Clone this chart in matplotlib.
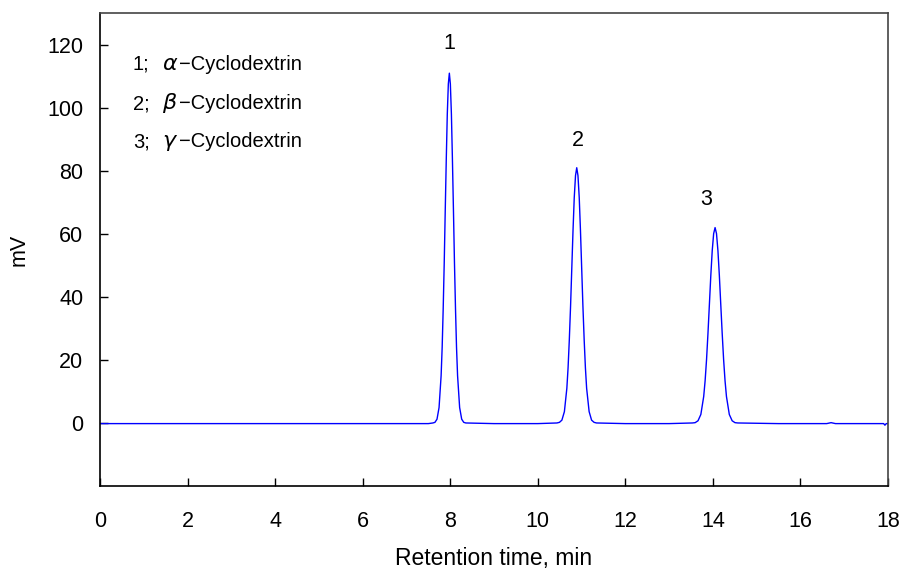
import matplotlib
matplotlib.use("Agg")
import matplotlib.pyplot as plt
import numpy as np

# Chromatogram trace (retention time in min, signal in mV)
time_min = [0.0, 2.0, 4.0, 6.0, 7.0, 7.5,
            7.604, 7.651, 7.698, 7.745, 7.792, 7.816, 7.839, 7.863, 7.886, 7.910, 7.933, 7.957,
            7.98,
            8.003, 8.027, 8.050, 8.074, 8.097, 8.121, 8.144, 8.168, 8.215, 8.262, 8.309, 8.356,
            9.0, 10.0,
            10.438, 10.495, 10.551, 10.608, 10.664, 10.692, 10.720, 10.749, 10.777, 10.805, 10.833, 10.862,
            10.89,
            10.918, 10.947, 10.975, 11.003, 11.031, 11.060, 11.088, 11.116, 11.173, 11.229, 11.286, 11.342,
            12.0, 13.0,
            13.53, 13.595, 13.66, 13.725, 13.79, 13.8225, 13.855, 13.8875, 13.92, 13.9525, 13.985, 14.0175,
            14.05,
            14.0825, 14.115, 14.1475, 14.18, 14.2125, 14.245, 14.2775, 14.31, 14.375, 14.44, 14.505, 14.57,
            15.5, 16.6, 16.7, 16.8, 17.9, 17.93, 17.96, 18.0]
signal_mv = [-0.2, -0.2, -0.2, -0.2, -0.2, -0.2,
             0.0, 0.2, 1.2, 4.9, 15.0, 24.0, 36.0, 50.8, 67.3, 83.8, 98.0, 107.6,
             111.0,
             107.6, 98.0, 83.8, 67.3, 50.8, 36.0, 24.0, 15.0, 4.9, 1.2, 0.2, 0.0,
             -0.2, -0.2,
             0.0, 0.2, 0.9, 3.6, 11.0, 17.5, 26.3, 37.1, 49.1, 61.1, 71.5, 78.5,
             81.0,
             78.5, 71.5, 61.1, 49.1, 37.1, 26.3, 17.5, 11.0, 3.6, 0.9, 0.2, 0.0,
             -0.2, -0.2,
             0.0, 0.1, 0.7, 2.7, 8.4, 13.4, 20.1, 28.4, 37.6, 46.8, 54.7, 60.1,
             62.0,
             60.1, 54.7, 46.8, 37.6, 28.4, 20.1, 13.4, 8.4, 2.7, 0.7, 0.1, 0.0,
             -0.2, -0.2, 0.1, -0.2, -0.2, -0.7, -0.2, -0.2]

peak_labels = ["1", "2", "3"]
peak_label_x = [7.98, 10.91, 13.85]
peak_label_y = [120.5, 89.5, 70.8]

legend_nums = ["1;", "2;", "3;"]
legend_greek = ["$\\alpha$", "$\\beta$", "$\\gamma$"]
legend_name = "\u2212Cyclodextrin"

x_ticks = [0, 2, 4, 6, 8, 10, 12, 14, 16, 18]
y_ticks = [0, 20, 40, 60, 80, 100, 120]

plt.rcParams['font.family'] = ['Liberation Sans', 'DejaVu Sans']
plt.rcParams['mathtext.fontset'] = 'dejavusans'

fig = plt.figure(figsize=(9.03, 5.72), dpi=100)
ax = fig.add_axes([100/903, 1 - 486/572, 788/903, (486 - 13.3)/572])

ax.plot(time_min, signal_mv, color='#0000FF', lw=1.0)

ax.set_xlim(0, 18)
ax.set_ylim(-20, 130)
ax.set_xticks(x_ticks)
ax.set_yticks(y_ticks)
ax.tick_params(axis='both', direction='in', length=6, width=1, labelsize=15.5, colors='black')
ax.tick_params(axis='y', pad=12)
ax.tick_params(axis='x', pad=18)

for side in ['left', 'bottom']:
    ax.spines[side].set_linewidth(1.2)
    ax.spines[side].set_color('black')
for side in ['top', 'right']:
    ax.spines[side].set_linewidth(1.2)
    ax.spines[side].set_color('#444444')

ax.set_xlabel('Retention time, min', fontsize=16.5, labelpad=11)
ax.set_ylabel('mV', fontsize=15.5, labelpad=13)

for lab, lx, ly in zip(peak_labels, peak_label_x, peak_label_y):
    ax.text(lx, ly, lab, ha='center', va='center', fontsize=15.5)

legend_y_px = [70, 109, 147]
for num, greek, ypx in zip(legend_nums, legend_greek, legend_y_px):
    yf = 1 - ypx/572
    fig.text(133/903, yf, num, ha='left', va='baseline', fontsize=14.5)
    fig.text(162/903, yf, greek, ha='left', va='baseline', fontsize=16)
    fig.text(179/903, yf, legend_name, ha='left', va='baseline', fontsize=14.5)

fig.savefig('out.png', dpi=100)
